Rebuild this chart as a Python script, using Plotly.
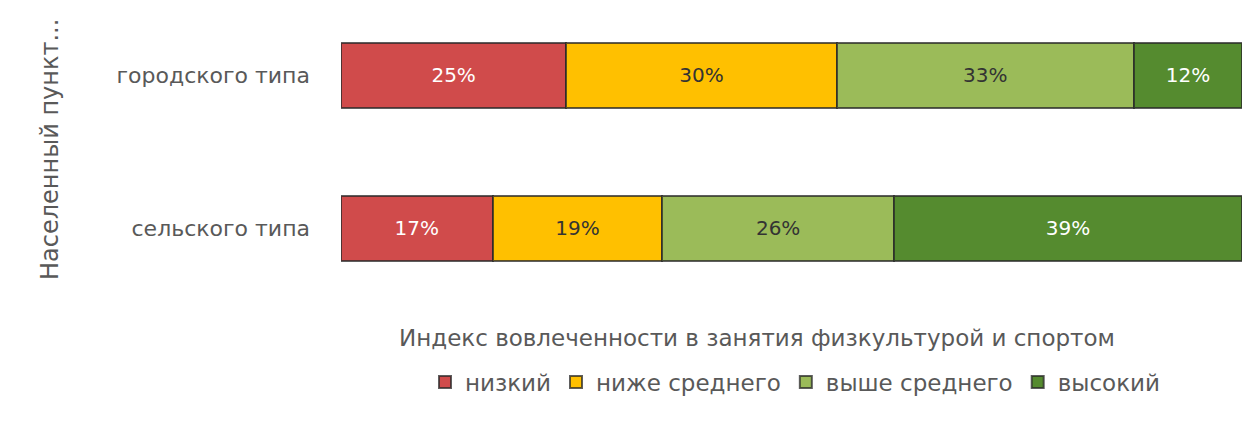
import plotly.graph_objects as go

categories = ["городского типа", "сельского типа"]
series_names = ["низкий", "ниже среднего", "выше среднего", "высокий"]
values_low = [25, 17]
values_below = [30, 19]
values_above = [33, 26]
values_high = [12, 39]
colors = ["#D04B4B", "#FFC000", "#9BBB59", "#558B2F"]
text_colors = ["#FFFFFF", "#333333", "#333333", "#FFFFFF"]
x_title = "Индекс вовлеченности в занятия физкультурой и спортом"
y_title = "Населенный пункт..."

FONT = "DejaVu Sans"
PAGE_OFF = 8  # browser body margin
W, H = 1250 - PAGE_OFF, 423 - PAGE_OFF
L = 341 - PAGE_OFF
R = W - (1242 - PAGE_OFF)
T = 0
B = H - (305 - PAGE_OFF)
PW = W - L - R
PH = H - T - B


def px_to_paper_x(px):
    return (px - PAGE_OFF - L) / PW


def px_to_paper_y(py):
    return (H - B - (py - PAGE_OFF)) / PH


fig = go.Figure()
for name, vals, col, tcol in zip(series_names,
                                 [values_low, values_below, values_above, values_high],
                                 colors, text_colors):
    fig.add_trace(go.Bar(
        y=categories, x=vals, name=name, orientation="h",
        marker=dict(color=col, line=dict(color="rgba(40,40,40,0.75)", width=2)),
        text=[f"{v}%" for v in vals], textposition="inside", insidetextanchor="middle",
        textfont=dict(color=tcol, size=20, family=FONT),
        hoverinfo="skip",
    ))

fig.update_layout(
    barmode="stack", barnorm="percent", bargap=0.58,
    width=W, height=H,
    margin=dict(l=L, r=R, t=T, b=B, autoexpand=False),
    paper_bgcolor="white", plot_bgcolor="white",
    font=dict(family=FONT, size=20, color="#595959"),
    xaxis=dict(range=[0, 100], showticklabels=False, showgrid=False, zeroline=False,
               showline=False, fixedrange=True),
    yaxis=dict(range=[1.5, -0.441], showgrid=False, zeroline=False, showline=False,
               ticklabelstandoff=30, tickfont=dict(size=22, color="#595959")),
    legend=dict(orientation="h", x=px_to_paper_x(795), xanchor="center",
                y=px_to_paper_y(382), yanchor="middle",
                font=dict(size=23, color="#595959"), traceorder="normal",
                itemwidth=30, tracegroupgap=0),
    showlegend=True,
    annotations=[
        dict(text=x_title, xref="paper", yref="paper", x=px_to_paper_x(757),
             y=px_to_paper_y(338), xanchor="center", yanchor="middle", showarrow=False,
             font=dict(size=23, color="#595959", family=FONT)),
        dict(text=y_title, xref="paper", yref="paper", x=px_to_paper_x(50),
             y=px_to_paper_y(150), xanchor="center", yanchor="middle", showarrow=False,
             textangle=-90, font=dict(size=24, color="#595959", family=FONT)),
    ],
)

fig.write_html("out.html")
